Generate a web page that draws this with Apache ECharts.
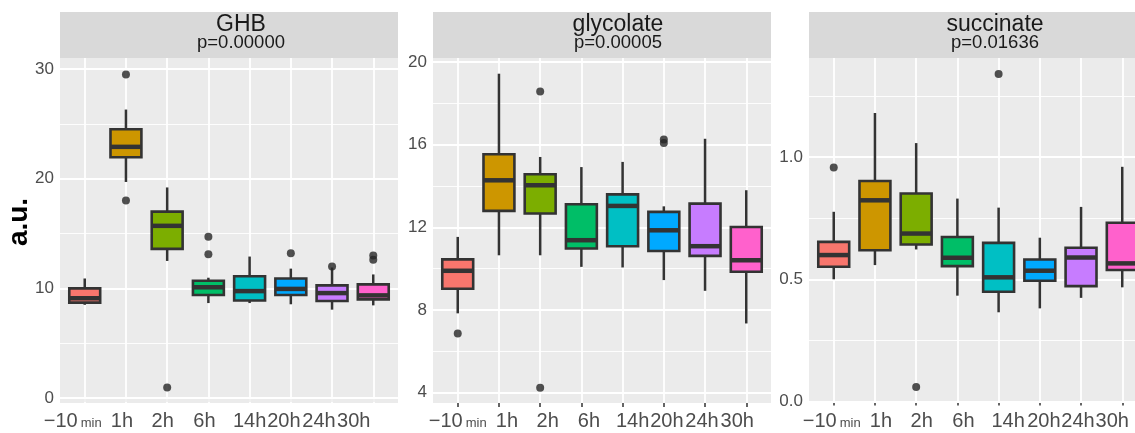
<!DOCTYPE html>
<html lang="en">
<head>
  <meta charset="UTF-8" />
  <title>GHB / glycolate / succinate</title>
  <script src="https://cdn.jsdelivr.net/npm/echarts@6/dist/echarts.min.js"></script>
  <style>
    body { margin: 0; padding: 0; background: #ffffff; }
    #main { width: 1135px; height: 433px; }
  </style>
</head>
<body>
  <div id="main"></div>
  <script>
    const categories = ['-10min', '1h', '2h', '6h', '14h', '20h', '24h', '30h'];
    const boxColors = ['#F8766D', '#CD9600', '#7CAE00', '#00BE67', '#00BFC4', '#00A9FF', '#C77CFF', '#FF61CC'];

    // each row: [lower whisker, Q1, median, Q3, upper whisker]
    const ghbStats = [
      [8.5, 8.7, 9.1, 10.0, 10.9],
      [19.7, 21.95, 22.9, 24.5, 26.3],
      [12.5, 13.6, 15.7, 17.0, 19.2],
      [8.66, 9.4, 10.1, 10.7, 10.97],
      [8.66, 8.9, 9.75, 11.1, 12.9],
      [8.55, 9.4, 9.95, 10.9, 11.8],
      [8.06, 8.85, 9.57, 10.27, 11.9],
      [8.45, 9.0, 9.36, 10.36, 11.27]
    ];
    const ghbOutliers = [[1, 29.5], [1, 18.0], [2, 0.97], [3, 14.7], [3, 13.1], [5, 13.2], [6, 12.0], [7, 13.0], [7, 12.6]];

    const glyStats = [
      [7.84, 9.03, 9.9, 10.45, 11.54],
      [10.65, 12.8, 14.28, 15.54, 19.44],
      [10.65, 12.67, 14.04, 14.57, 15.41],
      [10.09, 10.98, 11.38, 13.12, 14.92],
      [10.06, 11.09, 13.04, 13.6, 15.17],
      [9.45, 10.86, 11.86, 12.75, 13.02],
      [8.93, 10.62, 11.09, 13.15, 16.29],
      [7.35, 9.85, 10.41, 12.02, 13.8]
    ];
    const glyOutliers = [[0, 6.87], [2, 18.58], [2, 4.24], [5, 16.25], [5, 16.08]];

    const sucStats = [
      [0.50, 0.551, 0.599, 0.653, 0.776],
      [0.558, 0.619, 0.823, 0.902, 1.18],
      [0.622, 0.642, 0.687, 0.851, 1.057],
      [0.433, 0.554, 0.588, 0.673, 0.83],
      [0.365, 0.449, 0.508, 0.649, 0.793],
      [0.381, 0.494, 0.535, 0.581, 0.67],
      [0.424, 0.472, 0.589, 0.629, 0.796],
      [0.467, 0.538, 0.565, 0.731, 0.96]
    ];
    const sucOutliers = [[0, 0.957], [2, 0.059], [4, 1.34]];

    const ghbTicks = [0, 10, 20, 30];
    const ghbMinor = [5, 15, 25];
    const glyTicks = [4, 8, 12, 16, 20];
    const glyMinor = [6, 10, 14, 18];
    const sucTicks = [0, 0.5, 1.0];
    const sucMinor = [0.25, 0.75, 1.25];

    // horizontal nudge (px) of each x label relative to its tick, per panel
    const ghbLabelShift = [-12, -4, -4.5, -4, 0, -7, -13, -19.5];
    const glyLabelShift = [0, 8, 7.5, 7.5, 10, 3, -3, -9];
    const sucLabelShift = [-2, 6, 5.5, 6, 9.5, 4, -3, -10];

    const FONT = "'Liberation Sans', Arial, sans-serif";
    const TXT = '#4D4D4D';
    const PANEL_W = 338;
    const TOP = 58;
    const PLOT_H = 345;
    const X_MIN = -0.6, X_MAX = 7.6;
    const PX_PER_CAT = PANEL_W / (X_MAX - X_MIN);

    // the third panel is cut off by the right edge of the figure
    const panels = [
      { title: 'GHB', p: 'p=0.00000', stats: ghbStats, outliers: ghbOutliers, ticks: ghbTicks, minor: ghbMinor, shift: ghbLabelShift, min: -0.45, max: 31.0, left: 60, width: PANEL_W, textX: 241, digits: 0 },
      { title: 'glycolate', p: 'p=0.00005', stats: glyStats, outliers: glyOutliers, ticks: glyTicks, minor: glyMinor, shift: glyLabelShift, min: 3.5, max: 20.2, left: 433, width: PANEL_W, textX: 618, digits: 0 },
      { title: 'succinate', p: 'p=0.01636', stats: sucStats, outliers: sucOutliers, ticks: sucTicks, minor: sucMinor, shift: sucLabelShift, min: -0.006, max: 1.405, left: 809, width: 326, textX: 995, digits: 1 }
    ];

    function renderBox(params, api) {
      const i = api.value(0);
      const lo = api.coord([i, api.value(1)]);
      const q1 = api.coord([i, api.value(2)]);
      const med = api.coord([i, api.value(3)]);
      const q3 = api.coord([i, api.value(4)]);
      const hi = api.coord([i, api.value(5)]);
      const half = api.size([0.75, 0])[0] / 2;
      const x = q1[0];
      const stroke = '#333333';
      return {
        type: 'group',
        children: [
          { type: 'line', shape: { x1: x, y1: hi[1], x2: x, y2: q3[1] }, style: { stroke: stroke, lineWidth: 2.5 } },
          { type: 'line', shape: { x1: x, y1: q1[1], x2: x, y2: lo[1] }, style: { stroke: stroke, lineWidth: 2.5 } },
          { type: 'rect', shape: { x: x - half, y: q3[1], width: half * 2, height: q1[1] - q3[1] },
            style: { fill: boxColors[i], stroke: stroke, lineWidth: 2.6 } },
          { type: 'line', shape: { x1: x - half, y1: med[1], x2: x + half, y2: med[1] }, style: { stroke: stroke, lineWidth: 4.5 } }
        ]
      };
    }

    const grid = [], xAxis = [], yAxis = [], series = [], graphic = [];

    panels.forEach((pn, k) => {
      grid.push({
        left: pn.left, top: TOP, width: pn.width, height: PLOT_H,
        show: true, backgroundColor: '#EBEBEB', borderWidth: 0
      });
      xAxis.push({
        type: 'value', gridIndex: k, min: X_MIN, max: X_MIN + pn.width / PX_PER_CAT,
        axisLine: { show: false },
        splitLine: { show: false },
        axisTick: { show: true, length: 4, customValues: categories.map((c, i) => i), lineStyle: { color: '#333333', width: 1.5 } },
        axisLabel: {
          // labels sit slightly off their ticks, as in the original figure
          customValues: categories.map((c, i) => i + pn.shift[i] / PX_PER_CAT),
          showMinLabel: true,
          showMaxLabel: true,
          hideOverlap: false,
          margin: 8,
          color: TXT,
          fontSize: 20,
          fontFamily: FONT,
          formatter: v => {
            const i = Math.round(v);
            return i === 0 ? '{big|\u221210}{small|min}' : categories[i];
          },
          rich: {
            big: { fontSize: 20, color: TXT, fontFamily: FONT },
            small: { fontSize: 13, color: TXT, fontFamily: FONT, padding: [5, 0, 0, 3] }
          }
        }
      });
      yAxis.push({
        type: 'value', gridIndex: k, min: pn.min, max: pn.max,
        axisLine: { show: false },
        splitLine: { show: false },
        axisTick: { show: true, length: 4, customValues: pn.ticks, lineStyle: { color: '#333333', width: 1.5 } },
        axisLabel: {
          customValues: pn.ticks,
          showMinLabel: true,
          showMaxLabel: true,
          margin: 6,
          color: TXT,
          fontSize: 17,
          fontFamily: FONT,
          formatter: v => v.toFixed(pn.digits)
        }
      });

      const gridLines = [];
      pn.ticks.forEach(t => gridLines.push({ yAxis: t, lineStyle: { color: '#ffffff', width: 1.8, type: 'solid' } }));
      pn.minor.forEach(t => gridLines.push({ yAxis: t, lineStyle: { color: '#ffffff', width: 0.9, type: 'solid' } }));
      categories.forEach((c, i) => gridLines.push({ xAxis: i, lineStyle: { color: '#ffffff', width: 1.8, type: 'solid' } }));

      series.push({
        type: 'custom',
        xAxisIndex: k, yAxisIndex: k,
        z: 3,
        renderItem: renderBox,
        encode: { x: 0, y: [1, 2, 3, 4, 5] },
        data: pn.stats.map((s, i) => [i].concat(s)),
        animation: false
      });
      series.push({
        type: 'scatter',
        xAxisIndex: k, yAxisIndex: k,
        z: 4,
        symbolSize: 8,
        itemStyle: { color: '#262626' },
        data: pn.outliers,
        animation: false,
        markLine: {
          z: 1,
          silent: true,
          symbol: 'none',
          label: { show: false },
          animation: false,
          data: gridLines
        }
      });

      graphic.push({
        type: 'rect', left: pn.left, top: 12, z: -1,
        shape: { width: pn.width, height: 46 },
        style: { fill: '#D9D9D9' }
      });
      graphic.push({
        type: 'text', x: pn.textX, y: 25,
        style: { text: pn.title, font: '23px ' + FONT, fill: '#1A1A1A', textAlign: 'center', textVerticalAlign: 'middle' }
      });
      graphic.push({
        type: 'text', x: pn.textX, y: 43,
        style: { text: pn.p, font: '18.5px ' + FONT, fill: '#1A1A1A', textAlign: 'center', textVerticalAlign: 'middle' }
      });
    });

    graphic.push({
      type: 'text', x: 19, y: 222, rotation: Math.PI / 2,
      style: { text: 'a.u.', font: 'bold 28px ' + FONT, fill: '#000000', textAlign: 'center', textVerticalAlign: 'middle' }
    });

    let chart = echarts.init(document.getElementById('main'));
    chart.setOption({
      backgroundColor: '#ffffff',
      animation: false,
      grid: grid,
      xAxis: xAxis,
      yAxis: yAxis,
      series: series,
      graphic: graphic
    });
  </script>
</body>
</html>
